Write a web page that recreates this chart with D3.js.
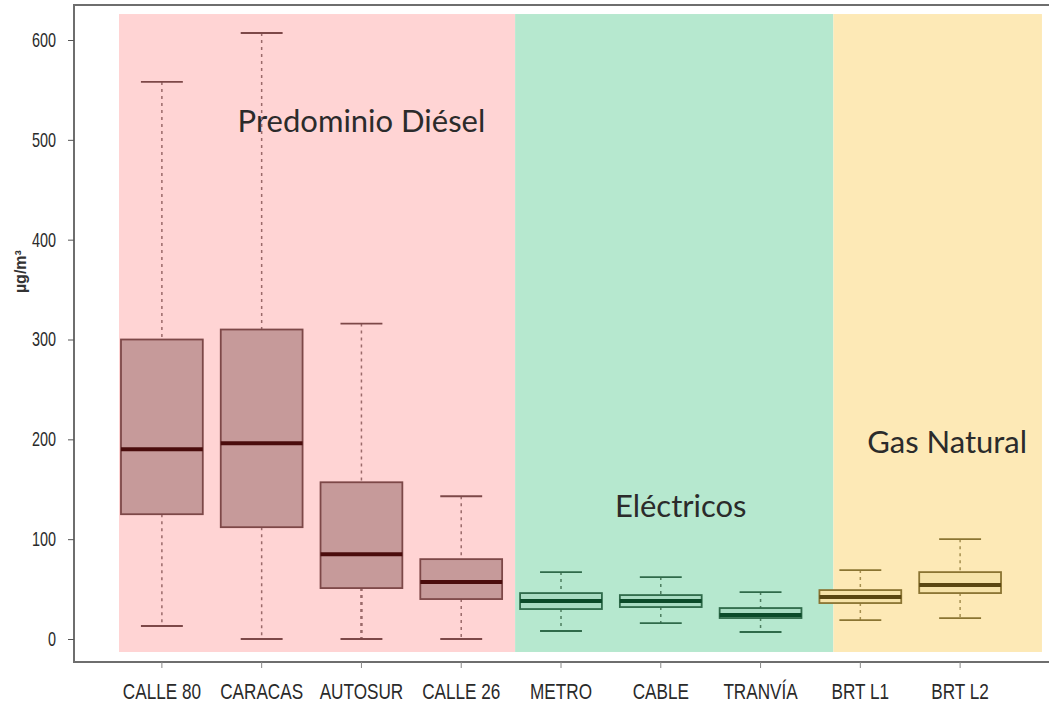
<!DOCTYPE html>
<html>
<head>
<meta charset="utf-8">
<script src="https://cdn.jsdelivr.net/npm/d3@7"></script>
<style>
  body { margin: 0; background: #fff; }
  .tick text { font-family: "Liberation Sans Narrow", "Arial Narrow", "Liberation Sans", sans-serif; fill: #2a2a2a; }
  .note { font-family: Lato, "Open Sans", sans-serif; font-size: 31px; fill: #2b2b2b; }
</style>
</head>
<body>
<svg id="chart"></svg>
<script>
// box stats (µg/m³)
const categories = ['CALLE 80', 'CARACAS', 'AUTOSUR', 'CALLE 26', 'METRO', 'CABLE', 'TRANVÍA', 'BRT L1', 'BRT L2']
const groups = ['diesel', 'diesel', 'diesel', 'diesel', 'elec', 'elec', 'elec', 'gas', 'gas']
const whiskerLow = [13, 0, 0, 0, 8, 16, 7, 19, 21]
const q1 = [125, 112, 51, 40, 30, 32, 21, 36, 46]
const median = [190, 196, 85, 57, 38, 38, 24, 42, 54]
const q3 = [300, 310, 157, 80, 46, 44, 31, 49, 67]
const whiskerHigh = [558, 607, 316, 143, 67, 62, 47, 69, 100]
const yTicks = [0, 100, 200, 300, 400, 500, 600]

// shaded regions, in category index units
const regionNames = ['Predominio Diésel', 'Eléctricos', 'Gas Natural']
const regionStart = [-0.43, 3.54, 6.73]
const regionEnd = [3.54, 6.73, 8.82]

const width = 1049
const height = 713

const colours = {
    diesel: { bg: '#ffd4d4', fill: '#c69a9a', stroke: '#7d4848', med: '#4a0c0c', whisk: '#9a6a6a' },
    elec: { bg: '#b6e8cf', fill: '#a9dcc3', stroke: '#2f6a4a', med: '#0b4a29', whisk: '#4d7d60' },
    gas: { bg: '#fde9b6', fill: '#f6e3a9', stroke: '#8a7432', med: '#5a4712', whisk: '#a69050' }
}

let svg = d3.select('#chart')
    .attr('width', width)
    .attr('height', height)

let x = d3.scaleBand()
    .domain(categories)
    .range([112, 1010])

let y = d3.scaleLinear()
    .domain([0, 600])
    .range([639, 40])

// index -> pixel, centre of band
const pos = i => x(categories[0]) + x.bandwidth() / 2 + i * x.step()

// background regions
svg.append('g')
    .selectAll('rect')
    .data(regionNames)
    .join('rect')
    .attr('x', (d, i) => pos(regionStart[i]))
    .attr('width', (d, i) => pos(regionEnd[i]) - pos(regionStart[i]))
    .attr('y', y(626))
    .attr('height', y(-13) - y(626))
    .style('fill', (d, i) => colours[['diesel', 'elec', 'gas'][i]].bg)

// region labels
const labelAt = [2.0, 5.2, 7.87]
const labelVal = [508, 122, 186]
svg.append('g')
    .selectAll('text')
    .data(regionNames)
    .join('text')
    .attr('class', 'note')
    .attr('x', (d, i) => pos(labelAt[i]))
    .attr('y', (d, i) => y(labelVal[i]))
    .attr('text-anchor', 'middle')
    .text(d => d)

// boxes
let boxW = x.bandwidth() * 0.82
let capW = x.bandwidth() * 0.42
let boxes = svg.append('g')
    .selectAll('g')
    .data(categories)
    .join('g')
    .attr('transform', d => `translate(${x(d) + x.bandwidth() / 2},0)`)

boxes.append('line')
    .attr('y1', (d, i) => y(whiskerHigh[i]))
    .attr('y2', (d, i) => y(q3[i]))
    .style('stroke', (d, i) => colours[groups[i]].whisk)
    .style('stroke-width', 1.5)
    .style('stroke-dasharray', '3,4')

boxes.append('line')
    .attr('y1', (d, i) => y(q1[i]))
    .attr('y2', (d, i) => y(whiskerLow[i]))
    .style('stroke', (d, i) => colours[groups[i]].whisk)
    .style('stroke-width', (d, i) => i == 2 ? 2.5 : 1.5)
    .style('stroke-dasharray', '3,4')

boxes.selectAll('.cap')
    .data((d, i) => [{ v: whiskerHigh[i], g: groups[i] }, { v: whiskerLow[i], g: groups[i] }])
    .join('line')
    .attr('class', 'cap')
    .attr('x1', -capW / 2)
    .attr('x2', capW / 2)
    .attr('y1', d => y(d.v))
    .attr('y2', d => y(d.v))
    .style('stroke', d => colours[d.g].stroke)
    .style('stroke-width', 1.8)

boxes.append('rect')
    .attr('x', -boxW / 2)
    .attr('width', boxW)
    .attr('y', (d, i) => y(q3[i]))
    .attr('height', (d, i) => y(q1[i]) - y(q3[i]))
    .style('fill', (d, i) => colours[groups[i]].fill)
    .style('stroke', (d, i) => colours[groups[i]].stroke)
    .style('stroke-width', 1.8)

boxes.append('line')
    .attr('x1', -boxW / 2)
    .attr('x2', boxW / 2)
    .attr('y1', (d, i) => y(median[i]))
    .attr('y2', (d, i) => y(median[i]))
    .style('stroke', (d, i) => colours[groups[i]].med)
    .style('stroke-width', 4)

// frame
const frame = { left: 74, top: 5, bottom: 662, right: 1049 }
svg.append('path')
    .attr('d', `M${frame.right},${frame.top}H${frame.left}V${frame.bottom}H${frame.right}`)
    .style('fill', 'none')
    .style('stroke', '#6e6e6e')
    .style('stroke-width', 2)

// axes, labels squeezed to look like a narrow font
const ySquash = 0.72
let yAxis = svg.append('g')
    .attr('transform', `translate(${frame.left},0)`)
    .call(d3.axisLeft(y).tickValues(yTicks).tickSize(6))
yAxis.select('.domain').remove()
yAxis.selectAll('.tick line').style('stroke', '#555')
yAxis.selectAll('.tick text')
    .style('font-size', '20px')
    .attr('x', -18 / ySquash)
    .attr('transform', `scale(${ySquash},1)`)

const xSquash = 0.78
let xAxis = svg.append('g')
    .attr('transform', `translate(0,${frame.bottom})`)
    .call(d3.axisBottom(x).tickSize(6).tickPadding(15))
xAxis.select('.domain').remove()
xAxis.selectAll('.tick line').style('stroke', '#888')
xAxis.selectAll('.tick text')
    .style('font-size', '22px')
    .attr('transform', `scale(${xSquash},1)`)

svg.append('text')
    .attr('transform', `translate(26,${y(368)}) rotate(-90)`)
    .attr('text-anchor', 'middle')
    .style('font-family', '"Liberation Sans", Arial, sans-serif')
    .style('font-size', '16px')
    .style('font-weight', 'bold')
    .style('fill', '#333')
    .text('µg/m³')
</script>
</body>
</html>
